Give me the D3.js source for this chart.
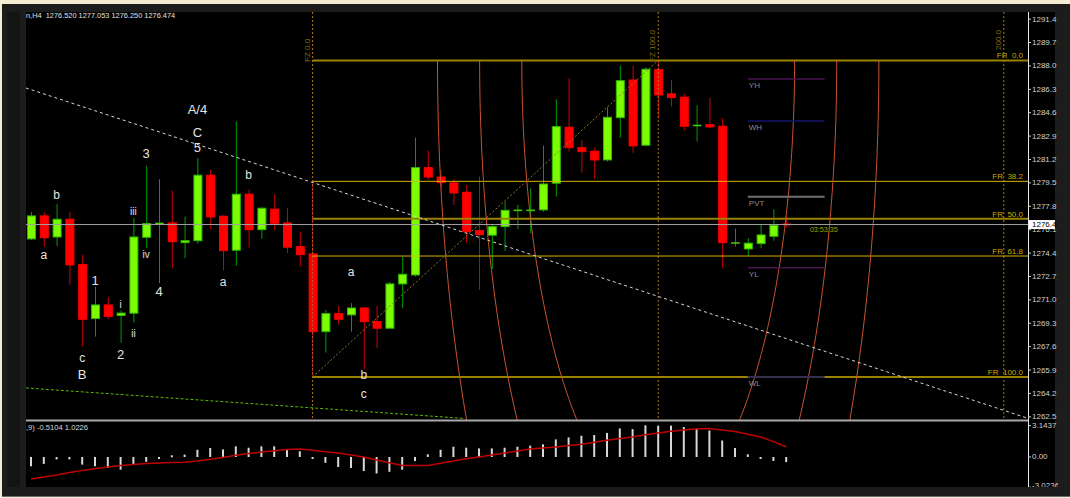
<!DOCTYPE html>
<html><head><meta charset="utf-8">
<script src="https://cdn.jsdelivr.net/npm/d3@7"></script>
<style>html,body{margin:0;padding:0;background:#f4edd3;}svg{display:block;}text{white-space:pre;}</style>
</head><body>
<script>
// ---------- DATA ----------
const openP  = [1275.43,1277.10,1275.57,1276.86,1273.56,1269.64,1270.63,1269.87,1270.03,1275.55,1276.54,1276.59,1275.16,1275.30,1280.06,1277.08,1274.61,1278.68,1276.10,1277.59,1276.59,1274.87,1274.34,1268.69,1270.00,1269.91,1270.41,1269.42,1268.94,1272.16,1272.81,1280.61,1279.93,1279.50,1278.82,1276.03,1275.70,1276.32,1277.51,1277.51,1277.54,1279.48,1283.55,1282.06,1281.80,1281.17,1284.24,1286.98,1282.24,1287.73,1285.97,1285.73,1283.69,1283.73,1283.62,1275.14,1274.70,1275.09,1275.62,1276.52];
const highP  = [1277.39,1277.39,1277.97,1277.41,1274.27,1271.96,1271.19,1270.22,1276.95,1280.75,1279.77,1278.94,1277.05,1281.31,1280.44,1277.15,1283.98,1279.01,1277.73,1278.68,1277.66,1275.96,1274.40,1270.27,1270.56,1270.76,1270.46,1270.56,1272.33,1274.14,1282.79,1281.84,1280.44,1279.77,1279.35,1279.96,1276.52,1278.14,1277.90,1279.11,1282.21,1285.58,1287.11,1282.62,1282.06,1285.00,1288.02,1288.02,1287.91,1288.35,1286.98,1285.97,1285.14,1285.70,1284.20,1276.18,1275.50,1276.52,1277.59,1277.053];
const lowP   = [1275.36,1274.87,1274.92,1272.09,1267.60,1268.33,1269.59,1267.89,1269.35,1274.75,1272.21,1273.30,1274.03,1275.09,1276.13,1273.15,1273.47,1274.80,1275.43,1276.10,1274.41,1273.42,1268.65,1267.17,1269.20,1268.69,1265.98,1267.49,1268.94,1270.39,1272.69,1279.72,1279.19,1277.90,1275.12,1271.72,1273.25,1274.56,1276.15,1275.84,1277.41,1278.50,1281.77,1280.25,1279.79,1281.05,1282.79,1281.70,1282.24,1284.20,1285.04,1283.30,1282.50,1283.47,1273.30,1274.87,1274.19,1274.75,1275.30,1276.25];
const closeP = [1277.10,1275.52,1276.86,1273.54,1269.59,1270.63,1269.81,1270.04,1275.57,1276.54,1276.59,1275.23,1275.30,1280.06,1277.03,1274.58,1278.68,1276.10,1277.66,1276.57,1274.83,1274.29,1268.69,1270.00,1269.59,1270.41,1269.42,1268.94,1272.16,1272.86,1280.61,1279.93,1279.52,1278.77,1275.96,1275.74,1276.32,1277.51,1277.54,1277.54,1279.42,1283.59,1282.06,1281.77,1281.17,1284.27,1286.93,1282.19,1287.76,1285.89,1285.70,1283.62,1283.71,1283.57,1275.16,1275.17,1275.12,1275.72,1276.42,1276.474];

const macdHist = [-0.93,-0.69,-0.24,-0.24,-0.76,-0.93,-1.10,-1.27,-0.76,-0.48,-0.10,0.17,0.24,0.72,0.90,0.76,1.07,0.93,1.07,1.07,0.80,0.58,-0.17,-0.58,-1.00,-1.10,-1.41,-1.65,-1.48,-1.27,-0.41,0.27,0.72,1.03,0.93,0.86,0.86,0.93,1.03,1.14,1.27,1.76,1.96,2.13,2.20,2.41,2.86,2.79,3.17,3.14,3.14,3.00,2.79,2.65,1.65,0.90,0.27,-0.19,-0.40,-0.5104];
const macdSignal = [-2.21,-2.00,-1.80,-1.56,-1.34,-1.17,-1.00,-0.86,-0.74,-0.66,-0.60,-0.56,-0.53,-0.40,-0.23,-0.04,0.17,0.34,0.50,0.63,0.74,0.81,0.67,0.53,0.40,0.20,0.00,-0.30,-0.57,-0.84,-0.86,-0.84,-0.62,-0.40,-0.18,0.00,0.20,0.40,0.60,0.81,0.90,1.00,1.14,1.27,1.47,1.67,1.85,2.01,2.22,2.41,2.58,2.71,2.82,2.85,2.71,2.55,2.28,2.01,1.54,1.0226];

const priceTicks = [1291.4,1289.7,1288.0,1286.3,1284.6,1282.9,1281.2,1279.5,1277.8,1276.1,1274.4,1272.7,1271.0,1269.3,1267.6,1265.9,1264.2,1262.5];
const macdTicks = [3.1437, 0.00, -3.0236];
const macdTickLabels = ["3.1437","0.00","-3.0236"];

const headerText = "n,H4  1276.520 1277.053 1276.250 1276.474";
const macdHeaderText = ",9) -0.5104 1.0226";
const bidPrice = 1276.474;
const bidLabel = "1276.4";
const timerText = "03:53:35";

// Fibonacci retracement (anchor bars and prices)
const fibLevels = [0, 38.2, 50, 61.8, 100];
const fibLabels = ["0.0","38.2","50.0","61.8","100.0"];
const fibHigh = 1288.4, fibLow = 1265.4;
const fibLowBar = 22, fibHighBar = 49;
// Fibonacci time zones
const fzBars = [22, 49, 76];
const fzLabels = ["FZ 0.0", "FZ 100.0", "200.0"];
// Fibonacci arcs
const arcLevels = [0.382, 0.5, 0.618];
const arcRadiusBars = 27.9, arcRadiusPrice = 85.2;

// pivot lines
const pivotNames = ["YH","WH","PVT","YL","WL"];
const pivotPrices = [1287.06,1284.00,1278.50,1273.34,1265.40];
const pivotColors = ["#4a1450","#14146a","#707070","#4a1450","#14146a"];
const pivotStartBar = 56, pivotEndBar = 62;

// trend lines [bar, price]
const whiteTrend = [[-0.4,1286.40],[77.8,1262.42]];
const greenTrend = [[-0.4,1264.60],[33.9,1262.38]];

// Elliott wave labels
const waveText  = ["a","b","1","c","B","i","2","iii","ii","3","iv","4","A/4","C","5","a","b","a","b","c"];
const waveBar   = [1,2,5,4,4,7,7,8,8,9,9,10,13,13,13,15,17,25,26,26];
const wavePrice = [1274.26,1278.60,1272.40,1266.80,1265.59,1270.63,1267.05,1277.41,1268.52,1281.63,1274.32,1271.60,1284.80,1283.18,1282.09,1272.32,1280.08,1273.01,1265.54,1264.14];

// ---------- LAYOUT ----------
const W = 1070, H = 498;
const plotL = 26, plotR = 1028, mainT = 12, mainB = 420, macdT = 422, macdB = 487;
const svg = d3.select("body").append("svg").attr("width", W).attr("height", H);

const x = d3.scaleLinear().domain([0, 76]).range([31, 31 + 12.8*76]);
const y = d3.scaleLinear().domain([1262.27, 1291.92]).range([mainB, mainT]);
const ym = d3.scaleLinear().domain([-3.0236, 3.1437]).range([487.2, 425.6]);

// frame
svg.append("rect").attr("width", W).attr("height", H).attr("fill", "#f4edd3");
svg.append("rect").attr("x", 2).attr("y", 4).attr("width", W-2).attr("height", 493).attr("fill", "#1c1c1c");
svg.append("rect").attr("x", 7).attr("y", 12).attr("width", 13).attr("height", 475).attr("fill", "#141414");
svg.append("rect").attr("x", plotL).attr("y", mainT).attr("width", 1055-plotL).attr("height", macdB-mainT).attr("fill", "#000");
svg.append("line").attr("x1", 2).attr("x2", W).attr("y1", 496.5).attr("y2", 496.5).attr("stroke", "#6a6a6a");

const defs = svg.append("defs");
defs.append("clipPath").attr("id","mainClip").append("rect").attr("x",plotL).attr("y",mainT).attr("width",plotR-plotL).attr("height",mainB-mainT);
defs.append("clipPath").attr("id","macdClip").append("rect").attr("x",plotL).attr("y",macdT).attr("width",plotR-plotL).attr("height",macdB-macdT);
defs.append("clipPath").attr("id","axisClip").append("rect").attr("x",plotR).attr("y",mainT).attr("width",30).attr("height",macdB-mainT);

const main = svg.append("g").attr("clip-path","url(#mainClip)");
const idx = d3.range(openP.length);

// candles
const bw = 8;
const cg = main.append("g");
idx.forEach(i => {
  const up = closeP[i] >= openP[i];
  cg.append("line").attr("x1", x(i)+0.5).attr("x2", x(i)+0.5)
    .attr("y1", y(highP[i])).attr("y2", y(lowP[i]))
    .attr("stroke", up ? "#00a000" : "#d00000").attr("stroke-width", 1);
  const top = y(Math.max(openP[i], closeP[i])), bot = y(Math.min(openP[i], closeP[i]));
  const h = Math.max(1, bot - top);
  cg.append("rect").attr("x", x(i) - bw/2 + 0.5).attr("y", top).attr("width", bw).attr("height", h)
    .attr("fill", up ? "#7cfc00" : "#ff0000")
    .attr("stroke", up ? "#2fb800" : "#ff0000").attr("stroke-width", h <= 1.5 ? 0.6 : 1);
});

// fib time zones
fzBars.forEach((b, k) => {
  main.append("line").attr("x1", x(b)).attr("x2", x(b)).attr("y1", mainT).attr("y2", mainB)
    .attr("stroke", "#b07818").attr("stroke-dasharray", "2,2");
  svg.append("text").attr("transform", `translate(${x(b)-3},${k===2?50:62}) rotate(-90)`)
    .attr("fill", "#8a6c10").attr("font-family", "Liberation Sans, Arial").attr("font-size", 8)
    .text(fzLabels[k]);
});
// red dotted part of fib anchor
main.append("line").attr("x1", x(fibLowBar)).attr("x2", x(fibLowBar))
  .attr("y1", y(fibHigh - (fibHigh-fibLow)*0.382)).attr("y2", y(fibLow))
  .attr("stroke", "#d02020").attr("stroke-dasharray", "2,2");

// fib retracement levels
fibLevels.forEach((lv, k) => {
  const p = fibHigh - (fibHigh - fibLow) * lv / 100;
  const strong = (lv === 0 || lv === 50 || lv === 100);
  main.append("line").attr("x1", x(fibLowBar)).attr("x2", plotR).attr("y1", y(p)).attr("y2", y(p))
    .attr("stroke", strong ? "#9a8200" : "#d8b400").attr("stroke-width", strong ? 2 : 1);
  svg.append("text").attr("x", 1023).attr("y", y(p) - 2).attr("text-anchor", "end")
    .attr("fill", "#c8a800").attr("font-family", "Liberation Sans, Arial").attr("font-size", 8)
    .text("FR  " + fibLabels[k]);
});
// fib trend (diagonal)
main.append("line").attr("x1", x(fibLowBar)).attr("y1", y(fibLow)).attr("x2", x(fibHighBar)).attr("y2", y(fibHigh))
  .attr("stroke", "#8c7a2c").attr("stroke-dasharray", "2,2");

// fib arcs
const arcLine = d3.line();
arcLevels.forEach(r => {
  const a = x(fibHighBar + r*arcRadiusBars) - x(fibHighBar);
  const b = y(fibHigh - r*arcRadiusPrice) - y(fibHigh);
  [-1, 1].forEach(s => {
    const pts = d3.range(0, 91).map(d => {
      const t = d * Math.PI / 180;
      return [x(fibHighBar) + s * a * Math.cos(t), y(fibHigh) + b * Math.sin(t)];
    });
    main.append("path").attr("d", arcLine(pts)).attr("fill", "none")
      .attr("stroke", "#c8532f").attr("stroke-width", 1);
  });
});

// trend lines
main.append("line").attr("x1", x(whiteTrend[0][0])).attr("y1", y(whiteTrend[0][1]))
  .attr("x2", x(whiteTrend[1][0])).attr("y2", y(whiteTrend[1][1]))
  .attr("stroke", "#d8d8d8").attr("stroke-dasharray", "3,3");
main.append("line").attr("x1", x(greenTrend[0][0])).attr("y1", y(greenTrend[0][1]))
  .attr("x2", x(greenTrend[1][0])).attr("y2", y(greenTrend[1][1]))
  .attr("stroke", "#5cb800").attr("stroke-dasharray", "3,2");

// pivot lines
pivotNames.forEach((n, k) => {
  main.append("line").attr("x1", x(pivotStartBar)).attr("x2", x(pivotEndBar))
    .attr("y1", y(pivotPrices[k])).attr("y2", y(pivotPrices[k]))
    .attr("stroke", pivotColors[k]).attr("stroke-width", n === "PVT" ? 2 : 1.5);
  main.append("text").attr("x", x(pivotStartBar) + 1).attr("y", y(pivotPrices[k]) + 9)
    .attr("fill", "#8c8c8c").attr("font-family", "Liberation Sans, Arial").attr("font-size", 8).text(n);
});

// bid line
main.append("line").attr("x1", plotL).attr("x2", plotR).attr("y1", y(bidPrice)).attr("y2", y(bidPrice))
  .attr("stroke", "#a0a0a0").attr("stroke-width", 1);
main.append("text").attr("x", x(60.85)).attr("y", y(bidPrice) + 7)
  .attr("fill", "#a8a000").attr("font-family", "Liberation Sans, Arial").attr("font-size", 7.2).text(timerText);

// wave labels
waveText.forEach((t, k) => {
  const small = ["i","ii","iii","iv"].includes(t);
  const lower = ["a","b","c"].includes(t);
  main.append("text").attr("x", x(waveBar[k])).attr("y", y(wavePrice[k]))
    .attr("text-anchor", "middle").attr("dominant-baseline", "central")
    .attr("fill", "#e4e4e4").attr("font-family", "Liberation Sans, Arial")
    .attr("font-size", small ? 10 : (lower ? 12 : 13)).text(t);
});

// header
svg.append("text").attr("x", 26).attr("y", 18).attr("fill", "#e0e0e0")
  .attr("font-family", "Liberation Sans, Arial").attr("font-size", 7.4).text(headerText);

// separator
svg.append("rect").attr("x", plotL).attr("y", 419.5).attr("width", plotR - plotL).attr("height", 2).attr("fill", "#a8a8a8");

// MACD
const mg = svg.append("g").attr("clip-path", "url(#macdClip)");
idx.forEach(i => {
  const v = macdHist[i];
  const y0 = ym(0), y1 = ym(v);
  mg.append("rect").attr("x", x(i) - 1).attr("y", Math.min(y0, y1)).attr("width", 2)
    .attr("height", Math.max(2, Math.abs(y1 - y0))).attr("fill", "#d8d8d8");
});
mg.append("path").attr("d", d3.line().x(i => x(i)).y(i => ym(macdSignal[i]))(idx))
  .attr("fill", "none").attr("stroke", "#c00000").attr("stroke-width", 1.5);
svg.append("text").attr("x", 26).attr("y", 430).attr("fill", "#d8d8d8")
  .attr("font-family", "Liberation Sans, Arial").attr("font-size", 7.6).text(macdHeaderText);

// axis
svg.append("line").attr("x1", plotR + 0.5).attr("x2", plotR + 0.5).attr("y1", mainT).attr("y2", macdB)
  .attr("stroke", "#e8e8e8").attr("stroke-width", 1);
const ax = svg.append("g").attr("clip-path", "url(#axisClip)");
priceTicks.forEach(p => {
  ax.append("line").attr("x1", plotR).attr("x2", plotR + 3).attr("y1", y(p)).attr("y2", y(p)).attr("stroke", "#d0d0d0");
  ax.append("text").attr("x", plotR + 4).attr("y", y(p)).attr("dominant-baseline", "central")
    .attr("fill", "#d0d0d0").attr("font-family", "Liberation Sans, Arial").attr("font-size", 8).text(p.toFixed(1));
});
macdTicks.forEach((v, k) => {
  ax.append("line").attr("x1", plotR).attr("x2", plotR + 3).attr("y1", ym(v)).attr("y2", ym(v)).attr("stroke", "#d0d0d0");
  ax.append("text").attr("x", plotR + 4).attr("y", ym(v) + (k===2 ? -1.5 : 0)).attr("dominant-baseline", "central")
    .attr("fill", "#d0d0d0").attr("font-family", "Liberation Sans, Arial").attr("font-size", 8).text(macdTickLabels[k]);
});
// bid price box
svg.append("rect").attr("x", plotR + 1).attr("y", y(bidPrice) - 4.5).attr("width", 26).attr("height", 9).attr("fill", "#ffffff");
svg.append("text").attr("x", plotR + 4).attr("y", y(bidPrice)).attr("dominant-baseline", "central")
  .attr("fill", "#000").attr("font-family", "Liberation Sans, Arial").attr("font-size", 8).text(bidLabel);
</script>
</body></html>
